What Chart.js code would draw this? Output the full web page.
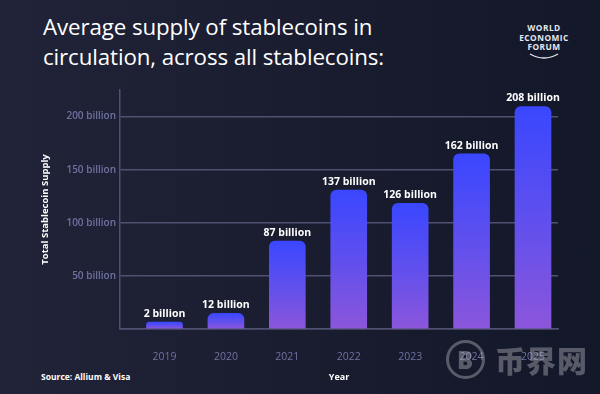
<!DOCTYPE html>
<html>
<head>
<meta charset="utf-8">
<script src="https://cdn.jsdelivr.net/npm/chart.js@4.4.1/dist/chart.umd.min.js"></script>
<style>
  html, body { margin: 0; padding: 0; }
  body {
    width: 600px; height: 394px; overflow: hidden; position: relative;
    background: linear-gradient(90deg, #212438 0%, #1a1d30 50%, #13172a 100%);
    font-family: "Open Sans", sans-serif;
  }
  #wrap { position: absolute; left: 0; top: 0; width: 600px; height: 394px; }
  .title {
    position: absolute; left: 43px; top: 12px; color: #fff;
    font-size: 22.3px; line-height: 30px; letter-spacing: -0.1px;
  }
  .source {
    position: absolute; left: 41px; top: 371px; color: #fff;
    font-size: 8.5px; font-weight: 700;
  }
  .logo {
    position: absolute; left: 505px; top: 23px; width: 78px; text-align: center;
    color: #e6e7ee; font-size: 8.3px; font-weight: 700; line-height: 9.6px; letter-spacing: 0.5px;
  }
  .logo svg { display: block; margin: 0 auto; }
  .watermark {
    position: absolute; left: 446px; top: 338px; height: 42px; display: flex; align-items: center;
    color: rgba(200, 200, 205, 0.38); font-family: "Noto Sans CJK SC", sans-serif; font-weight: 900;
    font-size: 30px; letter-spacing: 1px; z-index: 2;
  }
  .coin {
    width: 33px; height: 33px; border: 3px solid rgba(200, 200, 205, 0.38); border-radius: 50%;
    display: flex; align-items: center; justify-content: center; margin-right: 10px;
    font-family: "Open Sans", sans-serif; font-size: 24px; font-weight: 800;
  }
</style>
</head>
<body>
<div class="title">Average supply of stablecoins in<br>circulation, across all stablecoins:</div>
<div class="logo">WORLD<br>ECONOMIC<br>FORUM
  <svg width="34" height="8" viewBox="0 0 34 8"><path d="M3 2 Q17 10 31 2" stroke="#e6e7ee" stroke-width="1.4" fill="none"/></svg>
</div>
<div class="source">Source: Allium &amp; Visa</div>
<div class="watermark"><div class="coin">B</div>币界网</div>
<div id="wrap"><canvas id="chart" width="600" height="394"></canvas></div>
<script>
const years = ['2019', '2020', '2021', '2022', '2023', '2024', '2025'];
// labels printed above the bars (billions)
const supplyLabels = [2, 12, 87, 137, 126, 162, 208];
// bar heights as drawn in the source graphic (billions)
const barHeights = [6.6, 14.8, 82.8, 130.9, 118.3, 164.8, 209.3];
const yTicks = [50, 100, 150, 200];

const gridColor = '#4e5170';
const tickColor = '#6f72a0';

function barGradient(context) {
  const chart = context.chart;
  const area = chart.chartArea;
  if (!area || context.type !== 'data') return '#5a50f0';
  const y = chart.scales.y;
  const top = y.getPixelForValue(context.raw.y);
  const bottom = y.getPixelForValue(0);
  const g = chart.ctx.createLinearGradient(0, top, 0, bottom);
  g.addColorStop(0, '#3a47ff');
  g.addColorStop(0.55, '#6350ec');
  g.addColorStop(1, '#8c56db');
  return g;
}

const valueLabels = {
  id: 'valueLabels',
  afterDatasetsDraw(chart) {
    const ctx = chart.ctx;
    const meta = chart.getDatasetMeta(0);
    ctx.save();
    ctx.fillStyle = '#ffffff';
    ctx.font = 'bold 10.5px "Open Sans"';
    ctx.textAlign = 'center';
    ctx.textBaseline = 'bottom';
    meta.data.forEach((bar, i) => {
      ctx.fillText(supplyLabels[i] + ' billion', bar.x, bar.y - 3);
    });
    ctx.restore();
  }
};

new Chart(document.getElementById('chart').getContext('2d'), {
  type: 'bar',
  data: {
    datasets: [{
      data: barHeights.map((v, i) => ({ x: i, y: v })),
      backgroundColor: barGradient,
      borderRadius: { topLeft: 6, topRight: 6 },
      borderSkipped: 'start',
      barThickness: 36,
    }],
  },
  options: {
    responsive: false,
    animation: false,
    layout: { padding: { left: 36, right: 42, top: 90, bottom: 0 } },
    plugins: { legend: { display: false }, tooltip: { enabled: false } },
    scales: {
      x: {
        type: 'linear',
        offset: false,
        min: -0.7245,
        max: 6.407,
        grid: { display: false },
        border: { display: true, color: gridColor, width: 1.5 },
        afterBuildTicks: (scale) => { scale.ticks = years.map((_, i) => ({ value: i })); },
        ticks: {
          autoSkip: false,
          maxRotation: 0,
          padding: 14,
          color: tickColor,
          font: { family: 'Open Sans', size: 10.5 },
          callback: (v) => years[v],
        },
        title: {
          display: true,
          text: 'Year',
          color: '#ffffff',
          font: { family: 'Open Sans', size: 9, weight: 'bold' },
          padding: { top: 0, bottom: 11 },
        },
        afterFit: (scale) => { scale.height = 65; },
      },
      y: {
        min: 0,
        max: 225,
        grid: { color: gridColor, lineWidth: 1.5, drawTicks: false },
        border: { display: true, color: gridColor, width: 1.5 },
        afterBuildTicks: (scale) => { scale.ticks = [0].concat(yTicks).map(v => ({ value: v })); },
        ticks: {
          padding: 4,
          color: tickColor,
          font: { family: 'Open Sans', size: 10, weight: '600' },
          callback: (v) => v === 0 ? '' : v + ' billion',
        },
        title: {
          display: true,
          text: 'Total Stablecoin Supply',
          color: '#ffffff',
          font: { family: 'Open Sans', size: 9.5, weight: 'bold' },
          padding: { top: 4, bottom: 0 },
        },
        afterFit: (scale) => { scale.width = 84; },
      },
    },
  },
  plugins: [valueLabels],
});
</script>
</body>
</html>
